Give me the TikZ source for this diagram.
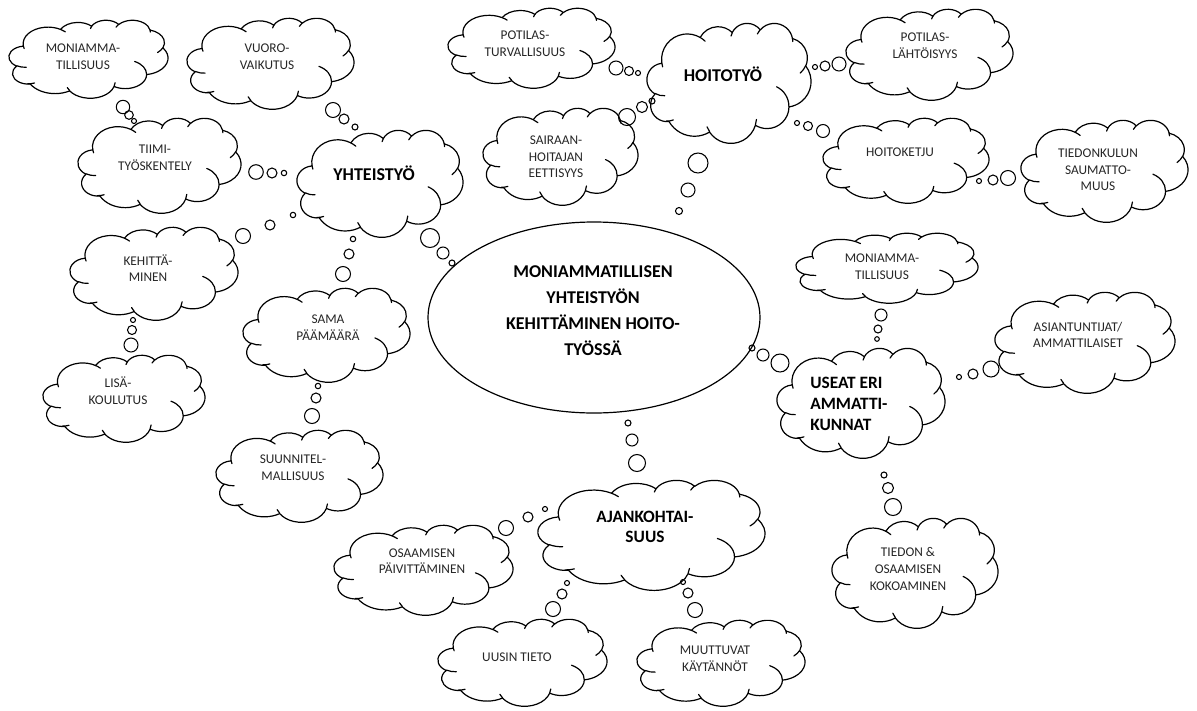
\documentclass[tikz,border=0pt]{standalone}
\usepackage{fontspec}
\setmainfont{Carlito}
\usetikzlibrary{shapes.geometric}
% Word cloud geometry: visual OOXML angles -> parametric arc angles
\newcommand\defcarc[5]{%
  \pgfmathsetmacro\cldtmpa{atan2((#2)*sin(#4),(#3)*cos(#4))}%
  \pgfmathsetmacro\cldtmpa{\cldtmpa+360*round(((#4)-\cldtmpa)/360)}%
  \pgfmathsetmacro\cldtmpb{atan2((#2)*sin((#4)+(#5)),(#3)*cos((#4)+(#5)))}%
  \pgfmathsetmacro\cldtmpb{\cldtmpb+360*round(((#4)+(#5)-\cldtmpb)/360)}%
  \expandafter\xdef\csname #1\endcsname{arc[x radius=#2, y radius=#3, start angle=\cldtmpa, end angle=\cldtmpb]}%
}
\defcarc{cldA}{6.753}{9.190}{-190.48748}{123.78053}
\defcarc{cldB}{5.333}{7.267}{-144.10238}{89.94523}
\defcarc{cldC}{4.365}{5.945}{-145.80792}{99.72302}
\defcarc{cldD}{4.857}{6.595}{-130.98607}{117.24173}
\defcarc{cldE}{5.333}{7.273}{-78.70888}{109.02692}
\defcarc{cldF}{6.775}{9.220}{-46.26725}{130.269}
\defcarc{cldG}{5.785}{7.867}{0.62502}{114.03333}
\defcarc{cldH}{6.752}{9.215}{22.4516}{115.17255}
\defcarc{cldI}{7.720}{10.543}{66.24263}{75.71102}
\defcarc{cldJ}{4.360}{5.918}{-274.94208}{146.73557}
\defcarc{cldK}{4.345}{5.945}{-246.8285}{152.51885}
\defcarc{cliA}{4.345}{5.945}{86.742}{26.4295}
\defcarc{cliB}{4.360}{5.918}{73.61047}{18.2513}
\defcarc{cliC}{6.752}{9.215}{137.62415}{13.7658}
\defcarc{cliD}{6.752}{9.215}{6.45327}{15.99835}
\defcarc{cliE}{5.785}{7.867}{-70.29235}{70.91737}
\defcarc{cliF}{5.333}{7.273}{30.31803}{27.7515}
\defcarc{cliG}{4.857}{6.595}{-13.74433}{14.8589}
\defcarc{cliH}{4.857}{6.595}{-149.18145}{18.19537}
\defcarc{cliI}{4.365}{5.945}{-163.49427}{17.68635}
\defcarc{cliJ}{6.753}{9.190}{-66.70695}{12.31935}
\defcarc{cliK}{6.753}{9.190}{157.65435}{11.85817}
\newcommand\cloudat[4]{%
  \begin{scope}[shift={(#1,#2)},xscale=#3/43.2,yscale=#4/43.2]
    \draw[cloudedge] (3.900,14.370) \cldA \cldB \cldC \cldD \cldE \cldF \cldG \cldH \cldI \cldJ \cldK -- cycle;
    \draw[cloudedge] (4.693,26.177) \cliA (6.928,34.899) \cliB (16.478,39.090) \cliC
      (28.827,34.751) \cliD (34.129,22.954) \cliE (41.798,15.354) \cliF
      (38.324,5.426) \cliG (29.078,3.952) \cliH (22.141,4.720) \cliI
      (14.000,5.192) \cliJ (4.127,15.789) \cliK;
  \end{scope}}
\tikzset{
  cloudedge/.style={line width=0.9pt, line join=round, line cap=round},
  bub/.style={line width=0.8pt},
  lbl/.style={font=\fontsize{10}{12.5}\selectfont, align=center, text=black!85, inner sep=0pt},
  hd/.style={font=\fontsize{13.5}{16}\selectfont\bfseries, align=center, inner sep=0pt},
  md/.style={font=\fontsize{13}{15.5}\selectfont\bfseries, inner sep=0pt},
  ctr/.style={font=\fontsize{13.5}{19.5}\selectfont\bfseries, align=center, inner sep=0pt},
}
\begin{document}
\begin{tikzpicture}[x=0.75pt,y=-0.75pt]
\useasboundingbox (0,0) rectangle (1197,711);
% central ellipse
\node[draw, ellipse, line width=0.9pt, minimum width=249pt, minimum height=143.25pt, inner sep=0pt] (cen) at (594,317.5) {};
\node[ctr] (centxt) at (593,311) {MONIAMMATILLISEN\\YHTEISTYÖN\\KEHITTÄMINEN HOITO-\\TYÖSSÄ};
% clouds
\cloudat{9}{20}{159}{78}      \node[lbl] (mon1) at (83,57) {MONIAMMA-\\TILLISUUS};
\cloudat{187}{18}{167}{91}    \node[lbl] (vuoro) at (267,57) {VUORO-\\VAIKUTUS};
\cloudat{78}{118}{163}{95}    \node[lbl] (tiimi) at (155,158) {TIIMI-\\TYÖSKENTELY};
\cloudat{297}{130}{166}{107}  \node[hd] (yht) at (374,173) {YHTEISTYÖ};
\cloudat{70}{227}{168}{93}    \node[lbl] (kehi) at (148,268) {KEHITTÄ-\\MINEN};
\cloudat{43}{355}{162}{87}    \node[lbl] (lisa) at (118,391) {LISÄ-\\KOULUTUS};
\cloudat{243}{288}{167}{94}   \node[lbl] (sama) at (328,328) {SAMA\\PÄÄMÄÄRÄ};
\cloudat{216}{430}{167}{92}   \node[lbl] (suun) at (293,468) {SUUNNITEL-\\MALLISUUS};
\cloudat{448}{8}{167}{80}     \node[lbl] (pot) at (525,44) {POTILAS-\\TURVALLISUUS};
\cloudat{647}{23}{164}{120}   \node[hd] (hoito) at (723,74) {HOITOTYÖ};
\cloudat{483}{108}{155}{97}   \node[lbl] (sair) at (556,157) {SAIRAAN-\\HOITAJAN\\EETTISYYS};
\cloudat{846}{9}{167}{91}     \node[lbl] (potl) at (925,46) {POTILAS-\\LÄHTÖISYYS};
\cloudat{823}{118}{166}{85}   \node[lbl] (hket) at (900,152) {HOITOKETJU};
\cloudat{1021}{120}{167}{102} \node[lbl] (tied) at (1098,170) {TIEDONKULUN\\SAUMATTO-\\MUUS};
\cloudat{796}{233}{182}{70}   \node[lbl] (mon2) at (882,267) {MONIAMMA-\\TILLISUUS};
\cloudat{995}{292}{180}{101}  \node[lbl] (asia) at (1078,335) {ASIANTUNTIJAT/\\AMMATTILAISET};
\cloudat{777}{348}{168}{110}  \node[md, align=left, anchor=west] (usea) at (810,404) {USEAT ERI\\AMMATTI-\\KUNNAT};
\cloudat{832}{518}{166}{110}  \node[lbl] (tdon) at (908,569) {TIEDON \&\\OSAAMISEN\\KOKOAMINEN};
\cloudat{538}{480}{227}{110}  \node[md, align=center] (ajan) at (645,527) {AJANKOHTAI-\\SUUS};
\cloudat{334}{525}{179}{90}   \node[lbl] (osaa) at (422,561) {OSAAMISEN\\PÄIVITTÄMINEN};
\cloudat{438}{619}{169}{87}   \node[lbl] (uusi) at (517,657) {UUSIN TIETO};
\cloudat{637}{620}{168}{86}   \node[lbl] (muut) at (715,659) {MUUTTUVAT\\KÄYTÄNNÖT};
% thought bubbles
\foreach \x/\y/\r in {
  333/110/7.5, 344/119/5, 355/127/3,
  123/107/6.7, 129/115/4.3, 134/121/2.5,
  256/172/7.3, 272/173/5, 284/173/2.7,
  293/215/2.7, 270/225/5, 243/236/7.5,
  353/239/2.7, 349/254/5, 343/274/7.5,
  430/238/9.5, 443/253/6, 452/263/3,
  133/320/2.5, 132/330/4.5, 131/345/7,
  318/386/2.7, 316/398/5, 312/416/7.5,
  616/68/7, 629/71/4.5, 638/73/2.5,
  627/117/8.5, 642/107/5.5, 652/101/3,
  698/163/10, 688/190/7, 679/211/3.5,
  815/67/2.5, 825/66/5, 839/64/7,
  797/123/2.5, 808/126/4.5, 823/131/6.5,
  979/181/2.5, 993/180/5, 1008/178/7.5,
  752/348/3, 763/355/6, 780/363/9,
  881/315/6, 878/329/4, 877/339/2.3,
  959/377/2.5, 973/374/5, 991/369/8,
  884/475/3, 888/488/5.5, 893/507/8.5,
  628/423/3, 632/440/6, 637/463/8.5,
  545/509/2.5, 528/517/5, 506/528/7.5,
  567/583/2.5, 562/594/5, 553/609/7.5,
  683/582/2.5, 688/593/5, 695/610/7.5}
  \draw[bub] (\x,\y) circle[radius=\r];
\end{tikzpicture}
\end{document}
